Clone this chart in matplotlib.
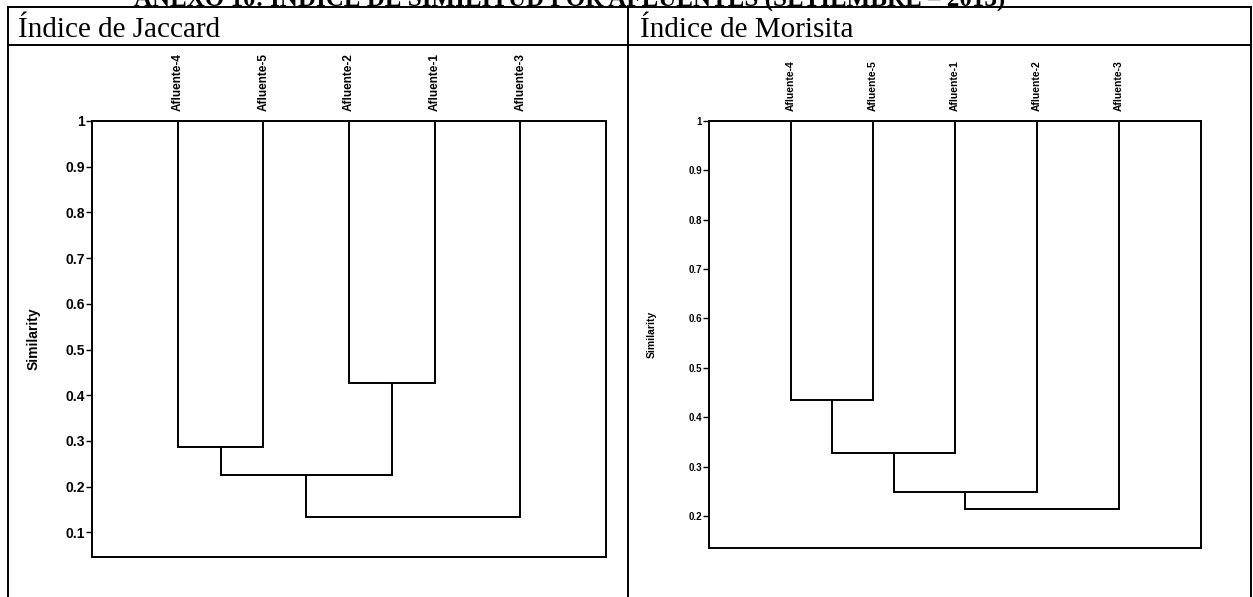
import matplotlib
matplotlib.use("Agg")
import matplotlib.pyplot as plt
from matplotlib.lines import Line2D

# Jaccard dendrogram: leaf order and merges (left, right, similarity)
jaccard_leaves = ["Afluente-4", "Afluente-5", "Afluente-2", "Afluente-1", "Afluente-3"]
jaccard_merges = [(0, 1, 0.286), (2, 3, 0.427), (5, 6, 0.226), (7, 4, 0.133)]
jaccard_ylim = (0.046, 1.0)
jaccard_ticks = [0.1, 0.2, 0.3, 0.4, 0.5, 0.6, 0.7, 0.8, 0.9, 1.0]

# Morisita dendrogram
morisita_leaves = ["Afluente-4", "Afluente-5", "Afluente-1", "Afluente-2", "Afluente-3"]
morisita_merges = [(0, 1, 0.434), (5, 2, 0.328), (6, 3, 0.248), (7, 4, 0.213)]
morisita_ylim = (0.135, 1.0)
morisita_ticks = [0.2, 0.3, 0.4, 0.5, 0.6, 0.7, 0.8, 0.9, 1.0]

title = "ANEXO 10: ÍNDICE DE SIMILITUD POR AFLUENTES (SETIEMBRE – 2013)"
headers = ["Índice de Jaccard", "Índice de Morisita"]

W, H = 1253, 597


def fx(px):
    return px / W


def fy(py):
    return 1 - py / H


def tick_label(v):
    return "1" if v == 1.0 else f"{v:.1f}"


def draw_dendrogram(ax, leaves, merges, ylim, ticks, tick_size, leaf_size, label_size):
    n = len(leaves)
    xs = [i + 1 for i in range(n)]
    hs = [ylim[1]] * n
    for a, b, s in merges:
        xa, xb = xs[a], xs[b]
        ax.plot([xa, xa, xb, xb], [hs[a], s, s, hs[b]], color="black", lw=1.4,
                solid_joinstyle="miter")
        xs.append((xa + xb) / 2)
        hs.append(s)

    ax.set_xlim(0, n + 1)
    ax.set_ylim(*ylim)
    for sp in ax.spines.values():
        sp.set_linewidth(1.4)

    ax.set_yticks(ticks)
    ax.set_yticklabels([tick_label(t) for t in ticks], fontweight="bold")
    ax.xaxis.tick_top()
    ax.set_xticks(range(1, n + 1))
    ax.set_xticklabels(leaves, rotation=90, fontweight="bold")
    ax.tick_params(axis="y", direction="out", length=4, width=1, pad=1,
                   labelsize=tick_size)
    ax.tick_params(axis="x", length=0, pad=7, labelsize=leaf_size)
    ax.tick_params(axis="x", bottom=False, labelbottom=False)
    ax.set_ylabel("Similarity", fontsize=label_size, fontweight="bold")


plt.rcParams["font.family"] = ["Liberation Sans", "DejaVu Sans"]
fig = plt.figure(figsize=(W / 100, H / 100), dpi=100)

# page title, partly above the top edge
fig.text(0.455, fy(6), title, ha="center", va="baseline", fontsize=18,
         fontweight="bold", family="Liberation Serif")

# table frame
line_kw = dict(color="black", lw=1.4, transform=fig.transFigure)
fig.add_artist(Line2D([fx(8), fx(1251)], [fy(7), fy(7)], **line_kw))
fig.add_artist(Line2D([fx(8), fx(1251)], [fy(45), fy(45)], **line_kw))
for px in (8, 628, 1251):
    fig.add_artist(Line2D([fx(px), fx(px)], [fy(7), 0], **line_kw))

fig.text(fx(18), fy(37), headers[0], ha="left", va="baseline", fontsize=21,
         family="Liberation Serif")
fig.text(fx(640), fy(37), headers[1], ha="left", va="baseline", fontsize=21,
         family="Liberation Serif")

ax1 = fig.add_axes([fx(92), fy(557), fx(606 - 92), (557 - 121) / H])
draw_dendrogram(ax1, jaccard_leaves, jaccard_merges, jaccard_ylim, jaccard_ticks,
                tick_size=10, leaf_size=8.5, label_size=10)
ax1.yaxis.set_label_coords(-51 / 514, 0.5)

ax2 = fig.add_axes([fx(709), fy(548), fx(1201 - 709), (548 - 121) / H])
draw_dendrogram(ax2, morisita_leaves, morisita_merges, morisita_ylim,
                morisita_ticks, tick_size=7, leaf_size=7.5, label_size=7.5)
ax2.yaxis.set_label_coords(-52 / 492, 0.5)

fig.savefig("out.png", dpi=100)
